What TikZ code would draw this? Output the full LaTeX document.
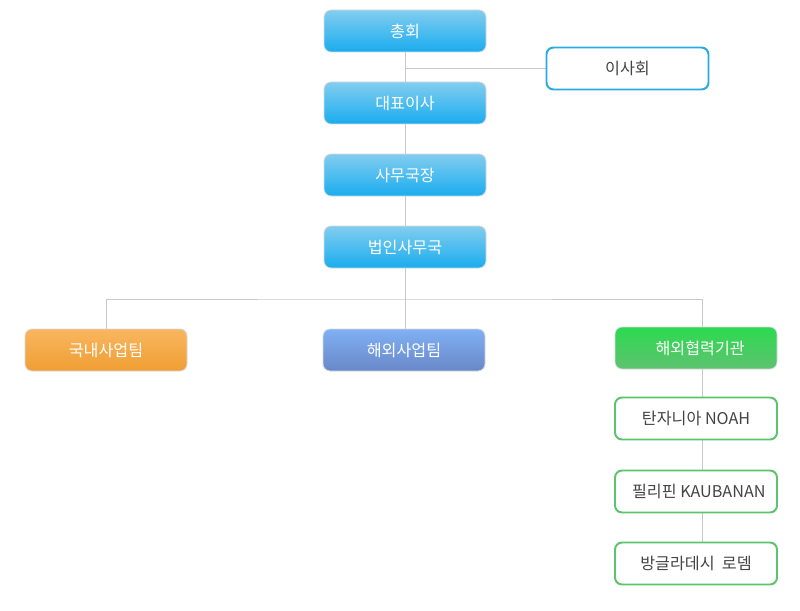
\documentclass[tikz,border=0pt]{standalone}
\usepackage{fontspec}
\setmainfont{Noto Sans CJK KR}
\usepackage{tikz}
\usetikzlibrary{positioning,backgrounds,calc}
\definecolor{skytop}{HTML}{82CDEE}
\definecolor{skybot}{HTML}{1AACF0}
\definecolor{ortop}{HTML}{F9B660}
\definecolor{orbot}{HTML}{EF9E33}
\definecolor{bltop}{HTML}{80B0F4}
\definecolor{blbot}{HTML}{6888C8}
\definecolor{grtop}{HTML}{2CDA50}
\definecolor{grbot}{HTML}{5EC270}
\definecolor{boardline}{HTML}{29ABE2}
\definecolor{coopline}{HTML}{5CC46C}
\definecolor{wire}{HTML}{C8C8C8}
\definecolor{inktext}{HTML}{444444}

\begin{document}
\begin{tikzpicture}[x=0.025cm,y=-0.025cm,
  unit/.style={minimum width=162*0.025cm, minimum height=42*0.025cm, rounded corners=5,
    draw=wire!70, line width=0.6pt, text=white, font=\fontsize{11.5pt}{13pt}\selectfont},
  sky/.style={unit, top color=skytop, bottom color=skybot},
  orange/.style={unit, top color=ortop, bottom color=orbot},
  steel/.style={unit, top color=bltop, bottom color=blbot},
  leaf/.style={unit, top color=grtop, bottom color=grbot},
  outline/.style={unit, fill=white, draw=#1, line width=1.4pt, text=inktext},
  wiring/.style={draw=wire, line width=0.6pt}]
\useasboundingbox (0,0) rectangle (800,610);
% top chain
\node[sky] (general) at (405,31) {총회};
\node[sky] (ceo) at (405,103) {대표이사};
\node[sky] (secgen) at (405,175) {사무국장};
\node[sky] (office) at (405,247) {법인사무국};
\node[outline=boardline] (board) at (627.5,68.5) {이사회};
% teams
\node[orange] (domestic) at (106,350) {국내사업팀};
\node[steel] (overseas) at (404,350) {해외사업팀};
\node[leaf] (coop) at (696,348) {\hspace{6pt}해외협력기관};
% partners
\node[outline=coopline] (tanzania) at (696,418.5) {탄자니아 NOAH};
\node[outline=coopline] (philippines) at (696,491.5) {\hspace{4pt}필리핀 KAUBANAN};
\node[outline=coopline] (bangladesh) at (696,563.5) {방글라데시\ \ 로뎀};
\coordinate (bus) at (405,299);
\coordinate (rail) at (702,299);
\begin{scope}[on background layer]
\draw[wiring] (general) -- (ceo) -- (secgen) -- (office) -- (office |- overseas.north);
\draw[wiring] (general.south |- board.west) -- (board.west);
\draw[wiring] (domestic.north) |- (bus) -- (rail) -- (rail |- coop.north);
\draw[wiring] (rail |- coop.south) -- (rail |- tanzania.north);
\draw[wiring] (rail |- tanzania.south) -- (rail |- philippines.north);
\draw[wiring] (rail |- philippines.south) -- (rail |- bangladesh.north);
\end{scope}
\end{tikzpicture}
\end{document}
